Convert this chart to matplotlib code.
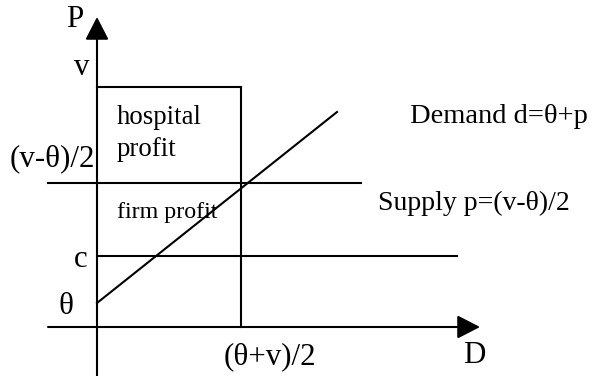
import matplotlib
matplotlib.use("Agg")
import matplotlib.pyplot as plt

plt.rcParams['font.family'] = ['Liberation Serif', 'DejaVu Serif']

# schematic levels, measured from the axis origin (pixel-like units)
theta = 24          # demand intercept
c = 71              # cost level
supply = 144        # supply price (v-theta)/2
v = 240             # valuation
q = 144             # quantity (theta+v)/2
demand_x = [0, 240]
demand_y = [theta, 215]

axis_x_range = [-49, 383]
axis_y_range = [-49, 310]
supply_x = [-49, 264]
cost_x = [0, 360]

fig = plt.figure(figsize=(6.07, 3.76), dpi=100)
ax = fig.add_axes([0, 0, 1, 1])
ax.set_xlim(-97, 510)
ax.set_ylim(-49, 327)
ax.axis('off')

lw = 1.5
arrow = dict(arrowstyle='-|>,head_length=0.7,head_width=0.36', mutation_scale=20,
             lw=lw, color='black', shrinkA=0, shrinkB=0)
# axes with arrow heads
ax.annotate('', xy=(axis_x_range[1], 0), xytext=(axis_x_range[0], 0), arrowprops=arrow)
ax.annotate('', xy=(0, axis_y_range[1]), xytext=(0, axis_y_range[0]), arrowprops=arrow)

# box for the profits
ax.plot([0, q], [v, v], color='black', lw=lw)
ax.plot([q, q], [0, v], color='black', lw=lw)
# supply and cost levels
ax.plot(supply_x, [supply, supply], color='black', lw=lw)
ax.plot(cost_x, [c, c], color='black', lw=lw)
# demand
ax.plot(demand_x, demand_y, color='black', lw=lw)

big = 22.3
ax.text(-31, 300, 'P', fontsize=big, va='baseline')
ax.text(-8, 252, 'v', fontsize=big, va='baseline', ha='right')
ax.text(-87, 161, '(v-θ)/2', fontsize=big, va='baseline')
ax.text(-10, 60, 'c', fontsize=big, va='baseline', ha='right')
ax.text(-24, 13, 'θ', fontsize=big, va='baseline', ha='right')
ax.text(127, -37, '(θ+v)/2', fontsize=big, va='baseline')
ax.text(366, -36, 'D', fontsize=big, va='baseline')

ax.text(20, 203, 'hospital', fontsize=19.3, va='baseline')
ax.text(20, 171, 'profit', fontsize=19.3, va='baseline')
ax.text(20, 109, 'firm profit', fontsize=17.3, va='baseline')

ax.text(313, 204, 'Demand d=θ+p', fontsize=20.5, va='baseline')
ax.text(281, 117, 'Supply p=(v-θ)/2', fontsize=20, va='baseline')

fig.savefig('out.png', dpi=100)
